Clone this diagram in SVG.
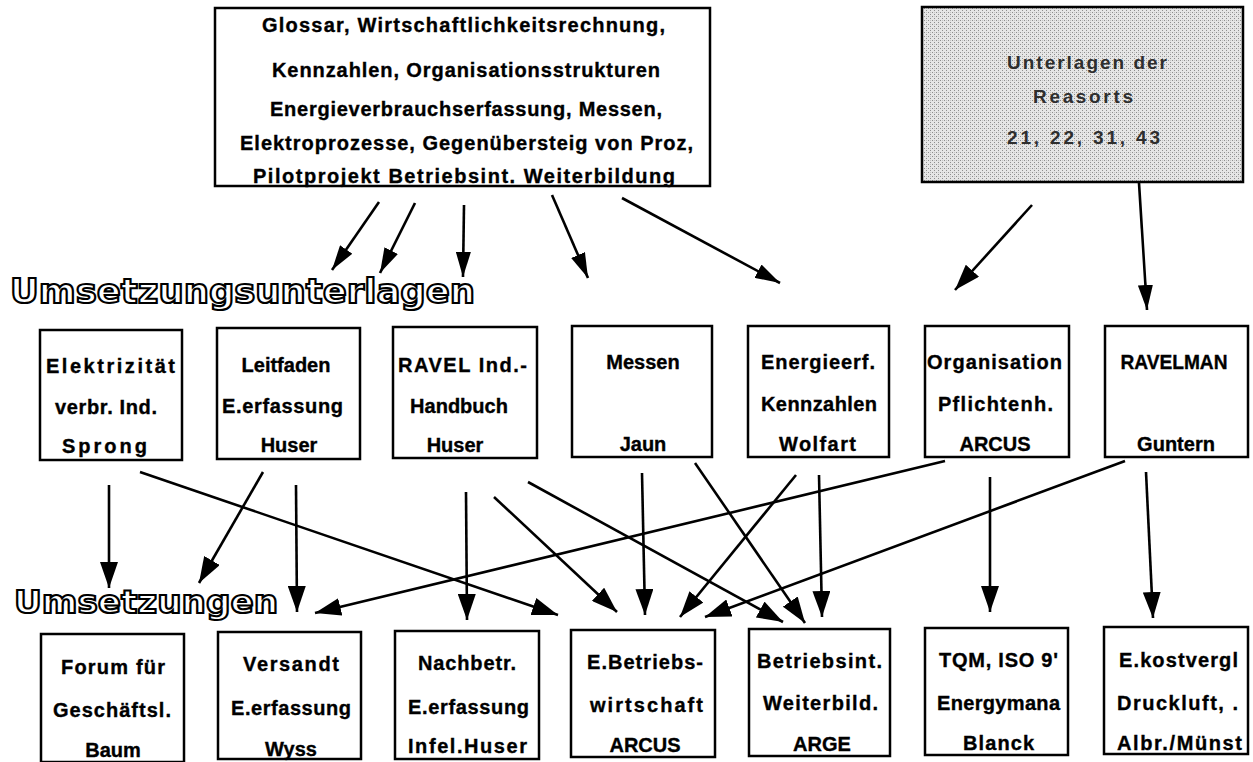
<svg xmlns="http://www.w3.org/2000/svg" width="1253" height="762" viewBox="0 0 1253 762">
<defs>
<style>
.box{fill:#fff;stroke:#000;stroke-width:2.5}
.t{font-family:"Liberation Sans",Arial,sans-serif;font-weight:bold;font-size:20px;fill:#000;stroke:#000;stroke-width:0.35}
.m{text-anchor:middle}
.g{font-family:"Liberation Sans",Arial,sans-serif;font-weight:bold;font-size:19px;fill:#2e2e2e}
.h{font-family:"DejaVu Sans","Liberation Sans",sans-serif;font-weight:bold;fill:#fff;stroke:#000;stroke-width:2.1}
.c path{fill:none;stroke:#000;stroke-width:2.6}
.c .big{marker-end:url(#ah)}
.c .sm{marker-end:url(#as)}
</style>
<pattern id="dots" width="4" height="4" patternUnits="userSpaceOnUse">
<rect width="4" height="4" fill="#e6e6e6"/>
<rect x="0" y="0" width="1" height="1" fill="#8e8e8e"/>
<rect x="2" y="2" width="1" height="1" fill="#8e8e8e"/>
<rect x="2" y="0" width="1" height="1" fill="#c4c4c4"/>
</pattern>
<marker id="ah" markerUnits="userSpaceOnUse" viewBox="0 0 26 18" markerWidth="26" markerHeight="18" refX="26" refY="9" orient="auto">
<path d="M0,0 L26,9 L0,18 z" fill="#000"/>
</marker>
<marker id="as" markerUnits="userSpaceOnUse" viewBox="0 0 25 15" markerWidth="25" markerHeight="15" refX="25" refY="7.5" orient="auto">
<path d="M0,0 L25,7.5 L0,15 z" fill="#000"/>
</marker>
</defs>
<rect width="1253" height="762" fill="#fff"/>

<g id="top-box">
<rect class="box" x="215" y="8" width="495" height="178"/>
<text class="t" x="262" y="32" textLength="403" lengthAdjust="spacing">Glossar, Wirtschaftlichkeitsrechnung,</text>
<text class="t" x="272" y="77" textLength="388" lengthAdjust="spacing">Kennzahlen, Organisationsstrukturen</text>
<text class="t" x="270" y="116" textLength="392" lengthAdjust="spacing">Energieverbrauchserfassung, Messen,</text>
<text class="t" x="240" y="150" textLength="453" lengthAdjust="spacing">Elektroprozesse, Gegenübersteig von Proz,</text>
<text class="t" x="253" y="183" textLength="422" lengthAdjust="spacing">Pilotprojekt Betriebsint. Weiterbildung</text>
</g>

<g id="resorts-box">
<rect x="922" y="7" width="321" height="175" fill="url(#dots)" stroke="#000" stroke-width="2.5"/>
<text class="g" x="1007" y="69" textLength="160" lengthAdjust="spacing">Unterlagen der</text>
<text class="g" x="1033" y="103" textLength="100" lengthAdjust="spacing">Reasorts</text>
<text class="g" x="1007" y="144" textLength="153" lengthAdjust="spacing">21, 22, 31, 43</text>
</g>

<g id="heading-unterlagen">
<text class="h" x="10" y="303" font-size="34" textLength="465" lengthAdjust="spacingAndGlyphs">Umsetzungsunterlagen</text>
</g>
<g id="heading-umsetzungen">
<text class="h" x="14" y="613" font-size="32" textLength="264" lengthAdjust="spacingAndGlyphs">Umsetzungen</text>
</g>

<g id="m1">
<rect class="box" x="40" y="330" width="142" height="130"/>
<text class="t" x="46" y="373" textLength="129" lengthAdjust="spacing">Elektrizität</text>
<text class="t" x="55" y="414" textLength="102" lengthAdjust="spacing">verbr. Ind.</text>
<text class="t" x="62" y="453" textLength="85" lengthAdjust="spacing">Sprong</text>
</g>
<g id="m2">
<rect class="box" x="217" y="328" width="143" height="131"/>
<text class="t m" x="286" y="372">Leitfaden</text>
<text class="t" x="222" y="413" textLength="121" lengthAdjust="spacing">E.erfassung</text>
<text class="t m" x="289" y="452">Huser</text>
</g>
<g id="m3">
<rect class="box" x="393" y="327" width="144" height="131"/>
<text class="t" x="398" y="372" textLength="129" lengthAdjust="spacing">RAVEL Ind.-</text>
<text class="t m" x="459" y="413">Handbuch</text>
<text class="t m" x="455" y="452">Huser</text>
</g>
<g id="m4">
<rect class="box" x="572" y="326" width="140" height="131"/>
<text class="t m" x="643" y="369">Messen</text>
<text class="t m" x="643" y="451">Jaun</text>
</g>
<g id="m5">
<rect class="box" x="748" y="326" width="141" height="131"/>
<text class="t" x="761" y="369" textLength="114" lengthAdjust="spacing">Energieerf.</text>
<text class="t" x="761" y="411" textLength="116" lengthAdjust="spacing">Kennzahlen</text>
<text class="t" x="779" y="451" textLength="77" lengthAdjust="spacing">Wolfart</text>
</g>
<g id="m6">
<rect class="box" x="925" y="326" width="144" height="131"/>
<text class="t" x="927" y="369" textLength="135" lengthAdjust="spacing">Organisation</text>
<text class="t" x="938" y="411" textLength="115" lengthAdjust="spacing">Pflichtenh.</text>
<text class="t m" x="995" y="451">ARCUS</text>
</g>
<g id="m7">
<rect class="box" x="1105" y="326" width="143" height="131"/>
<text class="t m" x="1174" y="369" textLength="107" lengthAdjust="spacingAndGlyphs">RAVELMAN</text>
<text class="t m" x="1176" y="451">Guntern</text>
</g>

<g id="b1">
<rect class="box" x="41" y="634" width="143" height="128"/>
<text class="t" x="61" y="674" textLength="104" lengthAdjust="spacing">Forum für</text>
<text class="t" x="53" y="717" textLength="118" lengthAdjust="spacing">Geschäftsl.</text>
<text class="t m" x="113" y="757">Baum</text>
</g>
<g id="b2">
<rect class="box" x="218" y="632" width="143" height="127"/>
<text class="t" x="243" y="671" textLength="96" lengthAdjust="spacing">Versandt</text>
<text class="t" x="231" y="715" textLength="120" lengthAdjust="spacing">E.erfassung</text>
<text class="t m" x="291" y="756">Wyss</text>
</g>
<g id="b3">
<rect class="box" x="395" y="631" width="144" height="128"/>
<text class="t" x="418" y="670" textLength="98" lengthAdjust="spacing">Nachbetr.</text>
<text class="t" x="408" y="714" textLength="121" lengthAdjust="spacing">E.erfassung</text>
<text class="t" x="408" y="753" textLength="119" lengthAdjust="spacing">Infel.Huser</text>
</g>
<g id="b4">
<rect class="box" x="571" y="630" width="144" height="127"/>
<text class="t" x="587" y="669" textLength="116" lengthAdjust="spacing">E.Betriebs-</text>
<text class="t" x="590" y="712" textLength="113" lengthAdjust="spacing">wirtschaft</text>
<text class="t m" x="645" y="752">ARCUS</text>
</g>
<g id="b5">
<rect class="box" x="749" y="629" width="141" height="127"/>
<text class="t" x="757" y="668" textLength="125" lengthAdjust="spacing">Betriebsint.</text>
<text class="t" x="763" y="710" textLength="115" lengthAdjust="spacing">Weiterbild.</text>
<text class="t m" x="822" y="751">ARGE</text>
</g>
<g id="b6">
<rect class="box" x="925" y="628" width="143" height="127"/>
<text class="t" x="939" y="667" textLength="119" lengthAdjust="spacing">TQM, ISO 9'</text>
<text class="t" x="937" y="710" textLength="123" lengthAdjust="spacing">Energymana</text>
<text class="t" x="963" y="750" textLength="71" lengthAdjust="spacing">Blanck</text>
</g>
<g id="b7">
<rect class="box" x="1104" y="627" width="144" height="127"/>
<text class="t" x="1119" y="667" textLength="119" lengthAdjust="spacing">E.kostvergl</text>
<text class="t" x="1117" y="710" textLength="121" lengthAdjust="spacing">Druckluft,  .</text>
<text class="t" x="1117" y="750" textLength="125" lengthAdjust="spacing">Albr./Münst</text>
</g>

<g id="connectors" class="c">
<path class="sm" d="M379,202 L332,270"/>
<path class="sm" d="M415,203 L380,273"/>
<path class="sm" d="M464,205 L463,277"/>
<path class="sm" d="M552,195 L588,278"/>
<path class="sm" d="M622,198 L780,283"/>
<path class="big" d="M1032,205 L955,290"/>
<path class="sm" d="M1139,183 L1147,310"/>
<path class="big" d="M109,485 L109,588"/>
<path class="big" d="M140,472 L558,615"/>
<path class="big" d="M263,472 L199,583"/>
<path class="big" d="M296,485 L297,612"/>
<path class="big" d="M466,492 L467,620"/>
<path class="big" d="M494,497 L617,612"/>
<path class="big" d="M528,482 L783,622"/>
<path class="big" d="M945,461 L315,613"/>
<path class="big" d="M642,473 L645,615"/>
<path class="big" d="M695,463 L805,623"/>
<path class="big" d="M796,475 L680,617"/>
<path class="big" d="M819,475 L822,617"/>
<path class="big" d="M1125,461 L705,617"/>
<path class="big" d="M990,477 L990,612"/>
<path class="big" d="M1146,472 L1153,618"/>
</g>
</svg>
